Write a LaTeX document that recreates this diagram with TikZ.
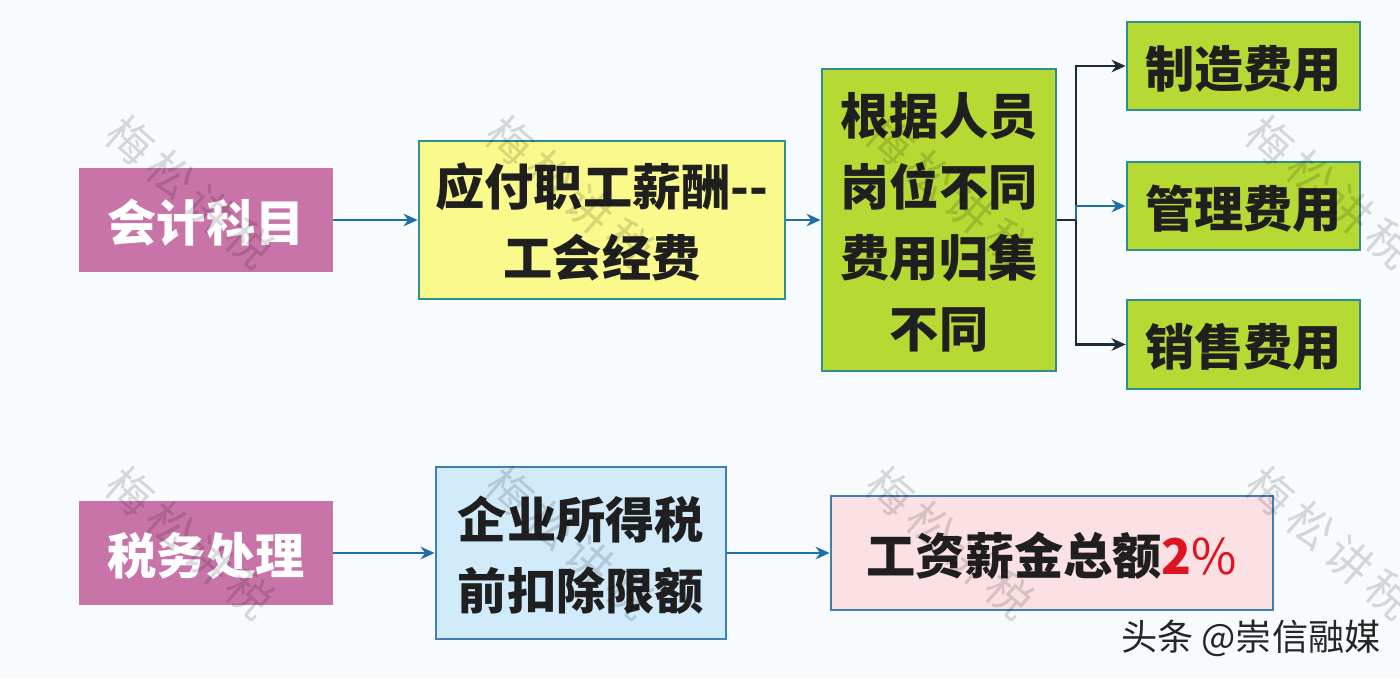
\documentclass[tikz,border=0pt]{standalone}
\usepackage{fontspec}
\setmainfont{Noto Sans CJK SC}
\usetikzlibrary{arrows.meta}
\definecolor{bgcol}{HTML}{F8FBFE}
\definecolor{purplebox}{HTML}{C874A8}
\definecolor{yellowbox}{HTML}{FAFA8C}
\definecolor{greenbox}{HTML}{B6D934}
\definecolor{bluebox}{HTML}{D2EBFA}
\definecolor{pinkbox}{HTML}{FBE1E4}
\definecolor{tealline}{HTML}{2F8F8F}
\definecolor{blueline}{HTML}{3F7FB5}
\definecolor{arrowblue}{HTML}{1F6FA8}
\definecolor{arrowdark}{HTML}{1E2A3A}
\definecolor{percentred}{HTML}{E0141E}
\tikzset{
	basebox/.style={rectangle, thick, inner sep=0pt, align=center, text=black!88,
		font=\fontsize{14}{20.2}\selectfont\bfseries, text depth=0pt},
	purplenode/.style={basebox, fill=purplebox, draw=purplebox, text=white},
	yellownode/.style={basebox, fill=yellowbox, draw=tealline},
	greennode/.style={basebox, fill=greenbox, draw=tealline},
	bluenode/.style={basebox, fill=bluebox, draw=blueline},
	pinknode/.style={basebox, fill=pinkbox, draw=blueline},
	flowline/.style={draw=arrowblue, line width=0.6pt, -{Stealth[length=4pt,width=3.6pt]}},
	darkline/.style={draw=arrowdark, line width=0.6pt, -{Stealth[length=4pt,width=3.6pt]}},
	watermark/.style={rotate=-41, text=black, opacity=0.14, font=\fontsize{12.8}{14}\selectfont}
}
\begin{document}
\begin{tikzpicture}
	\useasboundingbox (0, 0) rectangle (14, 6.78);
	\fill[bgcol] (0, 0) rectangle (14, 6.78);

	% obere Reihe
	\node[purplenode, minimum width=2.52cm, minimum height=1.02cm] (kemu) at (2.06, 4.58) {会计科目};
	\node[yellownode, minimum width=3.66cm, minimum height=1.58cm] (yingfu) at (6.02, 4.58) {应付职工薪酬-{}-\\工会经费};
	\node[greennode, minimum width=2.34cm, minimum height=3.02cm] (guiji) at (9.39, 4.58) {根据人员\\岗位不同\\费用归集\\不同};
	\node[greennode, minimum width=2.33cm, minimum height=0.88cm] (zhizao) at (12.435, 6.12) {制造费用};
	\node[greennode, minimum width=2.33cm, minimum height=0.88cm] (guanli) at (12.435, 4.72) {管理费用};
	\node[greennode, minimum width=2.33cm, minimum height=0.89cm] (xiaoshou) at (12.435, 3.335) {销售费用};

	% untere Reihe
	\node[purplenode, minimum width=2.52cm, minimum height=1.02cm] (shuiwu) at (2.06, 1.25) {税务处理};
	\node[bluenode, minimum width=2.90cm, minimum height=1.72cm] (qiye) at (5.81, 1.25) {企业所得税\\前扣除限额};
	\node[pinknode, minimum width=4.42cm, minimum height=1.14cm] (gongzi) at (10.52, 1.25) {工资薪金总额\textcolor{percentred}{2{\mdseries\%}}};

	% Pfeile
	\coordinate (split) at (10.76, 4.58);
	\draw[flowline] (kemu) -- (yingfu);
	\draw[flowline] (yingfu) -- (guiji);
	\draw[draw=arrowdark, line width=0.6pt] (guiji) -- (split);
	\draw[darkline] (split) |- (zhizao);
	\draw[flowline] (split) |- (guanli);
	\draw[darkline] (split) |- (xiaoshou);
	\draw[flowline] (shuiwu) -- (qiye);
	\draw[flowline] (qiye) -- (gongzi);

	% Wasserzeichen
	\foreach \x/\y [count=\i] in {1.90/4.86, 5.70/4.86, 9.50/4.86, 13.30/4.86, 1.90/1.35, 5.70/1.35, 9.50/1.35, 13.30/1.35}
		\node[watermark] (mark\i) at (\x, \y) {梅\,松\,讲\,税};

	% Quelle
	\node[text=black!85, font=\fontsize{10.3}{11}\selectfont] (quelle) at (12.51, 0.40) {头条 @崇信融媒};
\end{tikzpicture}
\end{document}
